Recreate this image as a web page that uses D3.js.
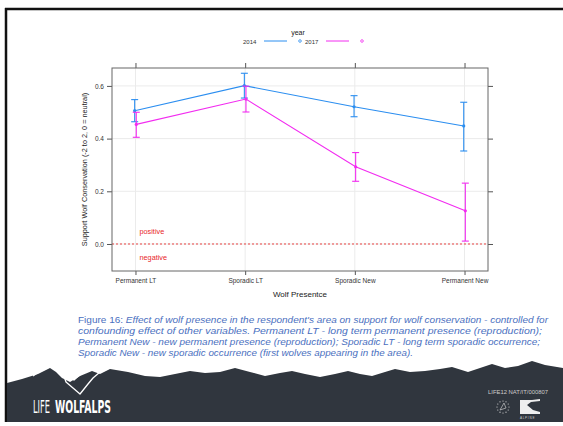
<!DOCTYPE html>
<html><head><meta charset="utf-8">
<script src="https://cdn.jsdelivr.net/npm/d3@7"></script>
<style>body{margin:0;background:#fff}svg{display:block}</style>
</head><body>
<svg id="c" width="563" height="426"></svg>
<script>
const categories = ["Permanent LT", "Sporadic LT", "Sporadic New", "Permanent New"];
const years = ["2014", "2017"];
const est2014 = [0.506, 0.601, 0.521, 0.448];
const lo2014  = [0.464, 0.554, 0.483, 0.353];
const hi2014  = [0.548, 0.648, 0.563, 0.538];
const est2017 = [0.454, 0.550, 0.293, 0.126];
const lo2017  = [0.405, 0.501, 0.238, 0.011];
const hi2017  = [0.500, 0.599, 0.347, 0.231];
const yTicks = [0, 0.2, 0.4, 0.6];
const yTickLabels = ["0.0", "0.2", "0.4", "0.6"];
const captionLines = [
  ["Figure 16: ", "Effect of wolf presence in the respondent's area on support for wolf conservation - controlled for"],
  ["", "confounding effect of other variables. Permanent LT - long term permanent presence (reproduction);"],
  ["", "Permanent New - new permanent presence (reproduction); Sporadic LT - long term sporadic occurrence;"],
  ["", "Sporadic New - new sporadic occurrence (first wolves appearing in the area)."]
];
const captionWidths = [470, 464, 462, 335];

const svg = d3.select("#c");
const colors = {"2014": "#2b8ef0", "2017": "#f22cf0"};
const dodge = {"2014": -0.8, "2017": 0.8};
const series = [
  {year: "2014", est: est2014, lo: lo2014, hi: hi2014},
  {year: "2017", est: est2017, lo: lo2017, hi: hi2017}
];

const L = 112, R = 488, T = 68, B = 271;
const x = d3.scalePoint().domain(categories).range([L, R]).padding(0.214);
const y = d3.scaleLinear().domain([-0.1025, 0.668]).range([B, T]);
const lf = "Liberation Sans, Arial, sans-serif";

// slide frame
svg.append("line").attr("x1", 5).attr("x2", 563).attr("y1", 9).attr("y2", 9).attr("stroke", "#111").attr("stroke-width", 2.5);
svg.append("line").attr("x1", 6).attr("x2", 6).attr("y1", 8).attr("y2", 422).attr("stroke", "#111").attr("stroke-width", 2.5);

// grid
const g = svg.append("g");
g.selectAll(".gy").data(yTicks).join("line")
  .attr("x1", L).attr("x2", R).attr("y1", d => y(d)).attr("y2", d => y(d))
  .attr("stroke", "#ebebeb").attr("stroke-width", 1);
g.selectAll(".gx").data(categories).join("line")
  .attr("x1", d => x(d)).attr("x2", d => x(d)).attr("y1", T).attr("y2", B)
  .attr("stroke", "#ebebeb").attr("stroke-width", 1);

// zero reference
g.append("line").attr("x1", L).attr("x2", R).attr("y1", y(0)).attr("y2", y(0))
  .attr("stroke", "#e8302f").attr("stroke-width", 0.9).attr("stroke-dasharray", "2,2");
g.append("text").attr("x", x(categories[0]) + 4).attr("y", y(0) - 10).text("positive")
  .attr("fill", "#e8262a").attr("font-family", lf).attr("font-size", 7.3);
g.append("text").attr("x", x(categories[0]) + 4).attr("y", y(0) + 16).text("negative")
  .attr("fill", "#e8262a").attr("font-family", lf).attr("font-size", 7.3);

// axes
function styleAxis(sel) {
  sel.select(".domain").remove();
  sel.selectAll("line").attr("stroke", "#555");
  sel.selectAll("text").attr("fill", "#333").attr("font-family", lf).attr("font-size", 6.5);
}
svg.append("g").attr("transform", `translate(${L},0)`)
  .call(d3.axisLeft(y).tickValues(yTicks).tickFormat((d, i) => yTickLabels[i]).tickSize(5).tickPadding(3)).call(styleAxis);
svg.append("g").attr("transform", `translate(${R},0)`)
  .call(d3.axisRight(y).tickValues(yTicks).tickFormat("").tickSize(5)).call(styleAxis);
svg.append("g").attr("transform", `translate(0,${B})`)
  .call(d3.axisBottom(x).tickSize(4).tickPadding(3)).call(styleAxis);
svg.append("g").attr("transform", `translate(0,${T})`)
  .call(d3.axisTop(x).tickFormat("").tickSize(5)).call(styleAxis);

// panel border
svg.append("rect").attr("x", L).attr("y", T).attr("width", R - L).attr("height", B - T)
  .attr("fill", "none").attr("stroke", "#666").attr("stroke-width", 1);

// series
series.forEach(s => {
  const col = colors[s.year], dx = dodge[s.year];
  const pts = categories.map((c, i) => ({c, v: s.est[i], lo: s.lo[i], hi: s.hi[i]}));
  svg.append("path").datum(pts)
    .attr("d", d3.line().x(d => x(d.c) + dx).y(d => y(d.v)))
    .attr("fill", "none").attr("stroke", col).attr("stroke-width", 1.1);
  const eb = svg.append("g");
  eb.selectAll(".v").data(pts).join("line")
    .attr("x1", d => x(d.c) + dx).attr("x2", d => x(d.c) + dx)
    .attr("y1", d => y(d.lo)).attr("y2", d => y(d.hi)).attr("stroke", col).attr("stroke-width", 1.1);
  ["lo", "hi"].forEach(k => {
    eb.selectAll(".c" + k).data(pts).join("line")
      .attr("x1", d => x(d.c) + dx - 3.5).attr("x2", d => x(d.c) + dx + 3.5)
      .attr("y1", d => y(d[k])).attr("y2", d => y(d[k])).attr("stroke", col).attr("stroke-width", 1.1);
  });
  eb.selectAll("circle").data(pts).join("circle")
    .attr("cx", d => x(d.c) + dx).attr("cy", d => y(d.v)).attr("r", 1.6).attr("fill", col);
});

// axis titles
svg.append("text").attr("x", (L + R) / 2).attr("y", 297).attr("text-anchor", "middle")
  .attr("font-family", lf).attr("font-size", 8).attr("fill", "#222").text("Wolf Presentce");
svg.append("text").attr("transform", `translate(87,${(T + B) / 2}) rotate(-90)`).attr("text-anchor", "middle")
  .attr("font-family", lf).attr("font-size", 7.3).attr("fill", "#222")
  .text("Support Wolf Conservation (-2 to 2, 0 = neutral)");

// legend
svg.append("text").attr("x", 298).attr("y", 35).attr("text-anchor", "middle").attr("font-family", lf).attr("font-size", 7).attr("fill", "#222").text("year");
const legX = {"2014": 243, "2017": 305};
years.forEach(yr => {
  const x0 = legX[yr];
  svg.append("text").attr("x", x0).attr("y", 43.5).attr("font-family", lf).attr("font-size", 6).attr("fill", "#333").text(yr);
  svg.append("line").attr("x1", x0 + 21).attr("x2", x0 + 44).attr("y1", 41).attr("y2", 41).attr("stroke", colors[yr]).attr("stroke-width", 1);
  svg.append("circle").attr("cx", x0 + 57).attr("cy", 41).attr("r", 1.3).attr("fill", "none").attr("stroke", colors[yr]).attr("stroke-width", 0.8);
});

// caption
const cap = svg.append("g").attr("font-family", lf).attr("font-size", 8.6).attr("fill", "#4a6fc0");
captionLines.forEach((ln, i) => {
  const t = cap.append("text").attr("x", 78).attr("y", 323 + i * 11)
    .attr("textLength", captionWidths[i]).attr("lengthAdjust", "spacingAndGlyphs");
  if (ln[0]) t.append("tspan").text(ln[0]);
  t.append("tspan").attr("font-style", "italic").text(ln[1]);
});

// footer
const ridge = [[7,383],[22,379],[38,374],[50,368],[56,372],[62,378],[70,382],[80,376],[92,371],[100,374],[110,369],[128,372],[145,376],[160,377],[175,374],[190,371],[205,373],[220,372],[235,368],[250,372],[265,376],[280,373],[292,371],[305,374],[320,377],[335,374],[348,371],[360,374],[372,376],[385,372],[395,369],[410,372],[425,371],[440,369],[452,367],[468,372],[480,368],[492,364],[505,368],[518,366],[532,361],[545,365],[563,368]];
const fpath = d3.line()(ridge.concat([[563,422],[7,422]])) + "Z";
svg.append("path").attr("d", fpath).attr("fill", "#30363e");
// wolf outline
svg.append("path").attr("d", "M33,376 L46,367 L55,363 L58,357 L63,355 L67,356 M58,361 L62,370 L66,382 L80,394 L88,384 L93,378 L100,372 M66,373 L74,380 L83,372 L88,369")
  .attr("fill", "none").attr("stroke", "#fff").attr("stroke-width", 1.3).attr("stroke-linejoin", "round");
const ff = "Liberation Sans Narrow, DejaVu Sans Condensed, sans-serif";
function fitText(txt, x0, yb, w, bold) {
  const t = svg.append("text").attr("fill", "#fff").attr("font-family", ff).attr("font-size", 17)
    .attr("font-weight", bold ? "bold" : "normal").text(txt);
  const nat = t.node().getComputedTextLength() || w;
  t.attr("transform", `translate(${x0},${yb}) scale(${w / nat},1)`);
}
fitText("LIFE", 33, 413, 17, false);
fitText("WOLFALPS", 55, 413, 56, true);
svg.append("text").attr("x", 488).attr("y", 394).attr("fill", "#ccc").attr("font-family", lf).attr("font-size", 5)
  .attr("textLength", 60).attr("lengthAdjust", "spacingAndGlyphs").text("LIFE12 NAT/IT/000807");
// EU stars
const stars = d3.range(12).map(i => [503 + 6 * Math.cos(i * Math.PI / 6), 407 + 6 * Math.sin(i * Math.PI / 6)]);
svg.append("g").selectAll("circle").data(stars).join("circle").attr("cx", d => d[0]).attr("cy", d => d[1]).attr("r", 0.6).attr("fill", "#ddd");
svg.append("path").attr("d", "M500,410 L504,403 L506,408 Z").attr("fill", "none").attr("stroke", "#ddd").attr("stroke-width", 0.6);
// second logo
svg.append("path").attr("d", "M520,400 L532,400 L540,399 L540,401 L531,402 L527,405 L533,410 L540,412 L540,414 L520,414 Z").attr("fill", "#eee");
svg.append("text").attr("x", 520).attr("y", 418.5).attr("fill", "#ccc").attr("font-family", lf).attr("font-size", 3).text("A L P I N E");
</script>
</body></html>
